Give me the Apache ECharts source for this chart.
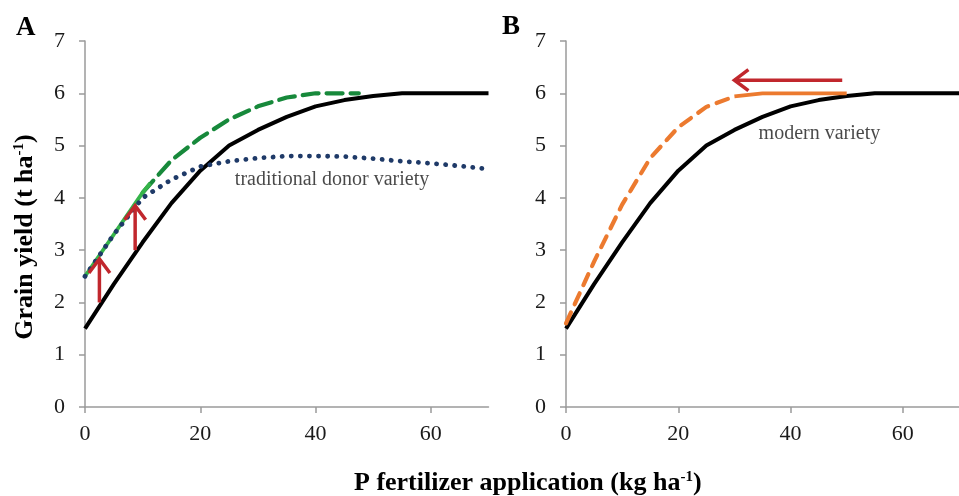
<!DOCTYPE html>
<html>
<head>
<meta charset="utf-8">
<script src="https://cdn.jsdelivr.net/npm/echarts@6/dist/echarts.min.js"></script>
<style>
  html, body { margin: 0; padding: 0; background: #fff; }
  #chart { width: 959px; height: 496px; }
</style>
</head>
<body>
<div id="chart"></div>
<script>
// P rate (kg/ha) shared by the curves
const pRates = [0, 5, 10, 15, 20, 25, 30, 35, 40, 45, 50, 55, 60, 65, 70];
// modern variety (black, both panels)
const modernYield = [1.5, 2.35, 3.15, 3.9, 4.52, 5.0, 5.3, 5.55, 5.75, 5.87, 5.95, 6.0, 6.0, 6.0, 6.0];
// traditional donor variety (navy dotted)
const donorYield = [2.5, 3.3, 4.0, 4.35, 4.6, 4.7, 4.76, 4.8, 4.8, 4.79, 4.75, 4.7, 4.66, 4.61, 4.55];
// improved line, panel A: bright solid start + dark dashed rest
const greenSolidX = [0, 5, 10, 11.3];
const greenSolidY = [2.5, 3.3, 4.1, 4.28];
const greenDashX = [10, 15, 20, 25, 30, 35, 40, 45, 47.5];
const greenDashY = [4.1, 4.72, 5.15, 5.5, 5.75, 5.92, 6.0, 6.0, 6.0];
// improved line, panel B: orange dashed then solid
const orangeDashX = [0, 5, 10, 15, 20, 25, 30];
const orangeDashY = [1.6, 2.78, 3.87, 4.76, 5.35, 5.74, 5.94];
const orangeSolidX = [30, 35, 40, 45, 50];
const orangeSolidY = [5.94, 6.0, 6.0, 6.0, 6.0];
// red arrows [x1, y1, x2, y2] (tip at x2, y2)
const arrowsA = [[2.5, 2.0, 2.5, 2.83], [8.7, 3.0, 8.7, 3.85]];
const arrowsB = [[49.2, 6.25, 30.0, 6.25]];
// in-plot labels [x, y, text]
const labelsA = [[26.0, 4.34, 'traditional donor variety']];
const labelsB = [[34.3, 5.22, 'modern variety']];

const serif = 'Liberation Serif';
const red = '#c1272d';

function zip(xs, ys) { return xs.map((x, i) => [x, ys[i]]); }

const titleRich = {
  b: { fontFamily: serif, fontWeight: 'bold', fontSize: 26, color: '#000' },
  s: { fontFamily: serif, fontWeight: 'bold', fontSize: 15, color: '#000', padding: [0, 0, 11, 0] }
};

function axisPair(idx) {
  const x = {
    gridIndex: idx, type: 'value', min: 0, max: 70, interval: 20,
    axisLine: { lineStyle: { color: '#9a9a9a', width: 1.5 } },
    axisTick: { show: true, length: 6, lineStyle: { color: '#9a9a9a', width: 1.5 } },
    axisLabel: { color: '#1a1a1a', fontFamily: serif, fontSize: 22, margin: 16, showMaxLabel: false },
    splitLine: { show: false }
  };
  const y = {
    gridIndex: idx, type: 'value', min: 0, max: 7, interval: 1,
    axisLine: { show: true, lineStyle: { color: '#9a9a9a', width: 1.5 } },
    axisTick: { show: true, length: 6, lineStyle: { color: '#9a9a9a', width: 1.5 } },
    axisLabel: { color: '#1a1a1a', fontFamily: serif, fontSize: 22, margin: 20 },
    splitLine: { show: false }
  };
  return [x, y];
}

const [xA, yA] = axisPair(0);
const [xB, yB] = axisPair(1);

function line(idx, data, color, width, type, z) {
  return {
    type: 'line', xAxisIndex: idx, yAxisIndex: idx, data: data,
    showSymbol: false, symbol: 'none', z: z, silent: true,
    lineStyle: { color: color, width: width, type: type, cap: type === 'solid' ? 'butt' : 'round', join: 'round' }
  };
}

// arrow: shaft + open chevron head, drawn from data coords
function arrows(idx, list) {
  return {
    type: 'custom', xAxisIndex: idx, yAxisIndex: idx, z: 10, silent: true,
    data: list,
    encode: { x: [0, 2], y: [1, 3] },
    renderItem: function (params, api) {
      const p1 = api.coord([api.value(0), api.value(1)]);
      const p2 = api.coord([api.value(2), api.value(3)]);
      const a = Math.atan2(p2[1] - p1[1], p2[0] - p1[0]);
      const L = 14, W = 10.5;
      const bx = p2[0] - L * Math.cos(a), by = p2[1] - L * Math.sin(a);
      const nx = -Math.sin(a) * W, ny = Math.cos(a) * W;
      const st = { stroke: red, lineWidth: 3.5, fill: null, lineJoin: 'miter' };
      return {
        type: 'group',
        children: [
          { type: 'line', shape: { x1: p1[0], y1: p1[1], x2: p2[0], y2: p2[1] }, style: st },
          { type: 'polyline', shape: { points: [[bx + nx, by + ny], p2, [bx - nx, by - ny]] }, style: st }
        ]
      };
    }
  };
}

function textLabels(idx, list) {
  return {
    type: 'scatter', xAxisIndex: idx, yAxisIndex: idx, symbolSize: 0, silent: true, z: 12,
    data: list.map(l => ({ value: [l[0], l[1]], name: l[2] })),
    label: {
      show: true, position: 'right', distance: 0, formatter: p => p.name,
      fontFamily: serif, fontSize: 20, color: '#1a1a1a'
    }
  };
}

const chart = echarts.init(document.getElementById('chart'), null, { renderer: 'canvas' });
chart.setOption({
  animation: false,
  backgroundColor: '#fff',
  title: {
    text: '{b|P fertilizer application (kg ha}{s|-1}{b|)}',
    left: 349, top: 465,
    textStyle: { rich: titleRich }
  },
  graphic: [
    { type: 'text', left: 16, top: 15, style: { text: 'A', fontFamily: serif, fontWeight: 'bold', fontSize: 27, fill: '#000' } },
    { type: 'text', left: 502, top: 14, style: { text: 'B', fontFamily: serif, fontWeight: 'bold', fontSize: 27, fill: '#000' } },
    {
      type: 'text', x: 25, y: 237, rotation: Math.PI / 2,
      style: {
        text: '{b|Grain yield (t ha}{s|-1}{b|)}', rich: titleRich,
        align: 'center', verticalAlign: 'middle'
      }
    }
  ],
  grid: [
    { left: 85, top: 41, width: 403.5, height: 366 },
    { left: 566, top: 41, width: 403.5, height: 366 }
  ],
  xAxis: [xA, xB],
  yAxis: [yA, yB],
  series: [
    line(0, zip(pRates, modernYield), '#000', 4, 'solid', 3),
    line(0, zip(greenDashX, greenDashY), '#17893b', 4.2, [16, 8], 4),
    line(0, zip(greenSolidX, greenSolidY), '#36b44a', 3.8, 'solid', 5),
    line(0, zip(pRates, donorYield), '#1f3a68', 4.8, [0.1, 9], 6),
    arrows(0, arrowsA),
    textLabels(0, labelsA),
    line(1, zip(pRates, modernYield), '#000', 4, 'solid', 3),
    line(1, zip(orangeDashX, orangeDashY), '#ec7a2f', 4.2, [12, 9], 4),
    line(1, zip(orangeSolidX, orangeSolidY), '#ec7a2f', 3.8, 'solid', 5),
    arrows(1, arrowsB),
    textLabels(1, labelsB)
  ]
});
</script>
</body>
</html>
